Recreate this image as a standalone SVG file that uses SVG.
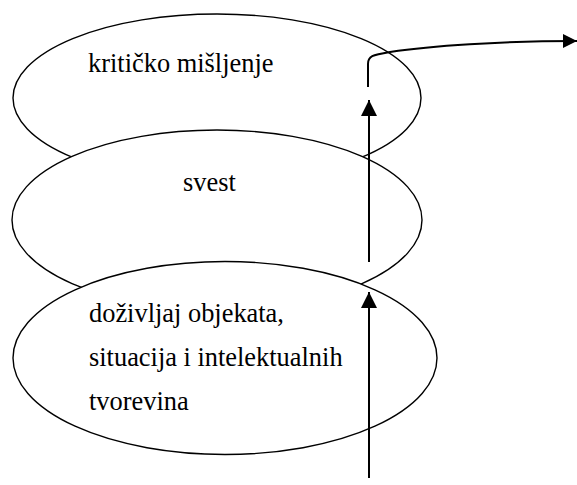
<svg xmlns="http://www.w3.org/2000/svg" width="577" height="485" viewBox="0 0 577 485">
<defs>
<marker id="ah" markerUnits="userSpaceOnUse" markerWidth="16" markerHeight="16" refX="16" refY="8" orient="auto"><path d="M0,0 L16,8 L0,16 Z" fill="#000"/></marker>
<marker id="ah2" markerUnits="userSpaceOnUse" markerWidth="14" markerHeight="14" refX="14" refY="7" orient="auto"><path d="M0,0 L14,7 L0,14 Z" fill="#000"/></marker>
</defs>
<rect width="577" height="485" fill="#fff"/>
<g font-family="'Liberation Serif', 'Times New Roman', 'DejaVu Serif', serif" font-size="26.4" fill="#000">
<g id="node-kriticko">
<ellipse cx="217" cy="98" rx="204" ry="84" fill="#fff" stroke="#000" stroke-width="1.4"/>
<text x="88" y="72">kritičko mišljenje</text>
</g>
<g id="node-svest">
<ellipse cx="217" cy="220" rx="205" ry="90" fill="#fff" stroke="#000" stroke-width="1.4"/>
<text x="183" y="191">svest</text>
</g>
<g id="node-dozivljaj">
<ellipse cx="225" cy="358" rx="212" ry="96.5" fill="#fff" stroke="#000" stroke-width="1.4"/>
<text x="89" y="322">doživljaj objekata,</text>
<text x="89" y="366">situacija i intelektualnih</text>
<text x="89" y="410">tvorevina</text>
</g>
</g>
<g id="connectors" fill="none" stroke="#000" stroke-width="2">
<path d="M369,478 L369,292" marker-end="url(#ah)"/>
<path d="M369,262 L369,100" marker-end="url(#ah)"/>
<path d="M368,87 L368,64 C368,56 372,55 390,52 C430,46 500,41 577,41" marker-end="url(#ah2)"/>
</g>
</svg>
